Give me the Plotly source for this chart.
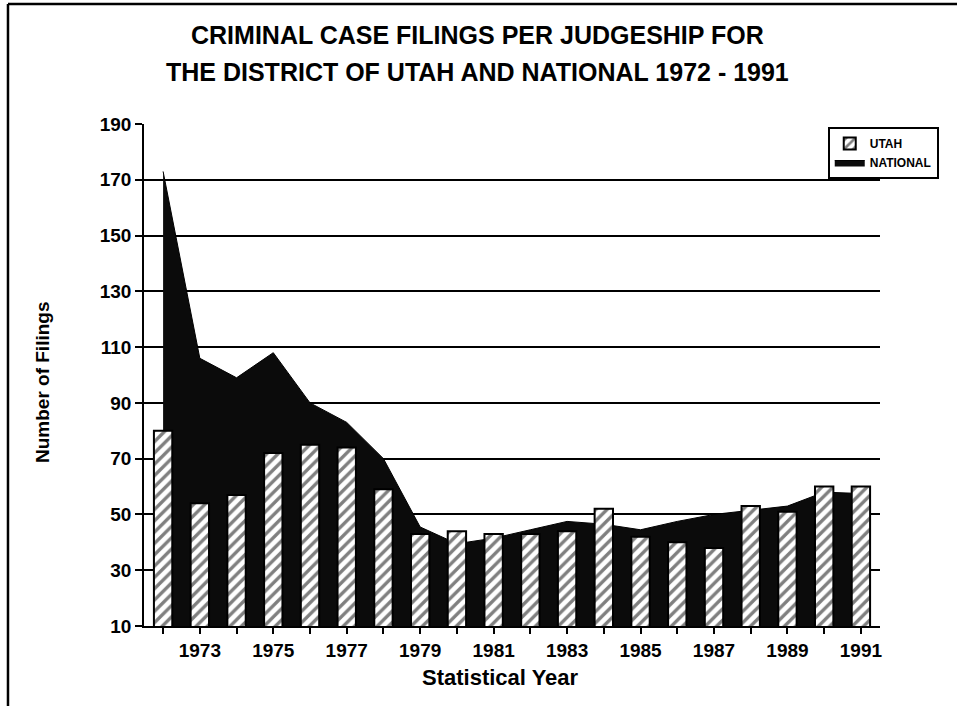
import plotly.graph_objects as go

# Statistical years covered by the chart
years = list(range(1972, 1992))

# Criminal case filings per judgeship, District of Utah
utah = [80, 54, 57, 72, 75, 74, 59, 43, 44, 43, 43, 44, 52, 42, 40, 38, 53, 51, 60, 60]

# Criminal case filings per judgeship, national average
national = [173, 106, 99, 108, 90, 83, 70, 45.5, 39.5, 41.5, 44.5, 47.5, 46.5, 44.5,
            47.5, 50, 51.5, 53, 58, 57.5]

# Only odd years carry a label on the x axis
tick_text = [str(y) if y % 2 == 1 else "" for y in years]
y_ticks = list(range(10, 191, 20))

X_RANGE = [1971.48, 1991.52]
Y_RANGE = [10, 190]
FONT = "Liberation Sans, Arial, Helvetica, sans-serif"

fig = go.Figure()

# National series as a solid dark area (base axes, drawn underneath)
fig.add_trace(go.Scatter(
    x=years, y=national, name="NATIONAL",
    mode="lines", line=dict(color="black", width=1),
    fill="tozeroy", fillcolor="#0b0b0b",
    legendrank=2,
))

# Utah series as hatched bars on an overlaid pair of axes so they sit in front
fig.add_trace(go.Bar(
    x=years, y=utah, name="UTAH", width=0.5,
    xaxis="x2", yaxis="y2",
    marker=dict(
        color="white",
        line=dict(color="black", width=2),
        pattern=dict(shape="/", fgcolor="black", bgcolor="white",
                     size=8, solidity=0.42),
    ),
    legendrank=1,
))

fig.update_layout(
    width=957, height=706,
    margin=dict(l=144, r=77, t=124, b=80),
    paper_bgcolor="white", plot_bgcolor="white",
    font=dict(family=FONT, color="black"),
    showlegend=True,
    legend=dict(
        x=0.929, y=0.994, xanchor="left", yanchor="top",
        bordercolor="black", borderwidth=2, bgcolor="white",
        font=dict(size=12, family=FONT, weight="bold"),
        tracegroupgap=0, itemwidth=30,
        entrywidth=95, entrywidthmode="pixels",
    ),
    xaxis=dict(
        range=X_RANGE,
        tickmode="array", tickvals=years, ticktext=tick_text,
        ticks="outside", ticklen=6, tickwidth=1.5, tickcolor="black",
        showline=True, linecolor="black", linewidth=1.5,
        showgrid=False, zeroline=False,
        tickfont=dict(size=19, family=FONT, weight="bold"),
    ),
    yaxis=dict(
        range=Y_RANGE,
        tickmode="array", tickvals=y_ticks,
        ticks="outside", ticklen=7, tickwidth=1.5, tickcolor="black",
        showline=True, linecolor="black", linewidth=1.5,
        showgrid=True, gridcolor="black", gridwidth=1.5,
        zeroline=False,
        tickfont=dict(size=19, family=FONT, weight="bold"),
    ),
    xaxis2=dict(range=X_RANGE, overlaying="x", visible=False),
    yaxis2=dict(range=Y_RANGE, overlaying="y", visible=False),
)

# Two-line chart title
fig.add_annotation(text="CRIMINAL CASE FILINGS PER JUDGESHIP FOR",
                   xref="paper", yref="paper", x=0.453, y=1.1773,
                   xanchor="center", yanchor="middle", showarrow=False,
                   font=dict(size=25, family=FONT, weight="bold"))
fig.add_annotation(text="THE DISTRICT OF UTAH AND NATIONAL 1972 - 1991",
                   xref="paper", yref="paper", x=0.453, y=1.1036,
                   xanchor="center", yanchor="middle", showarrow=False,
                   font=dict(size=25, family=FONT, weight="bold"))

# Axis titles
fig.add_annotation(text="Statistical Year",
                   xref="paper", yref="paper", x=0.4837, y=-0.1016,
                   xanchor="center", yanchor="middle", showarrow=False,
                   font=dict(size=22, family=FONT, weight="bold"))
fig.add_annotation(text="Number of Filings", textangle=-90,
                   xref="paper", yref="paper", x=-0.1386, y=0.486,
                   xanchor="center", yanchor="middle", showarrow=False,
                   font=dict(size=19, family=FONT, weight="bold"))

# Page frame: top and left border lines
fig.add_shape(type="line", xref="paper", yref="paper",
              x0=-0.1848, x1=1.11, y0=1.2388, y1=1.2388,
              line=dict(color="black", width=2.5))
fig.add_shape(type="line", xref="paper", yref="paper",
              x0=-0.1848, x1=-0.1848, y0=1.2388, y1=-0.17,
              line=dict(color="black", width=2.5))

fig.write_html("out.html")
